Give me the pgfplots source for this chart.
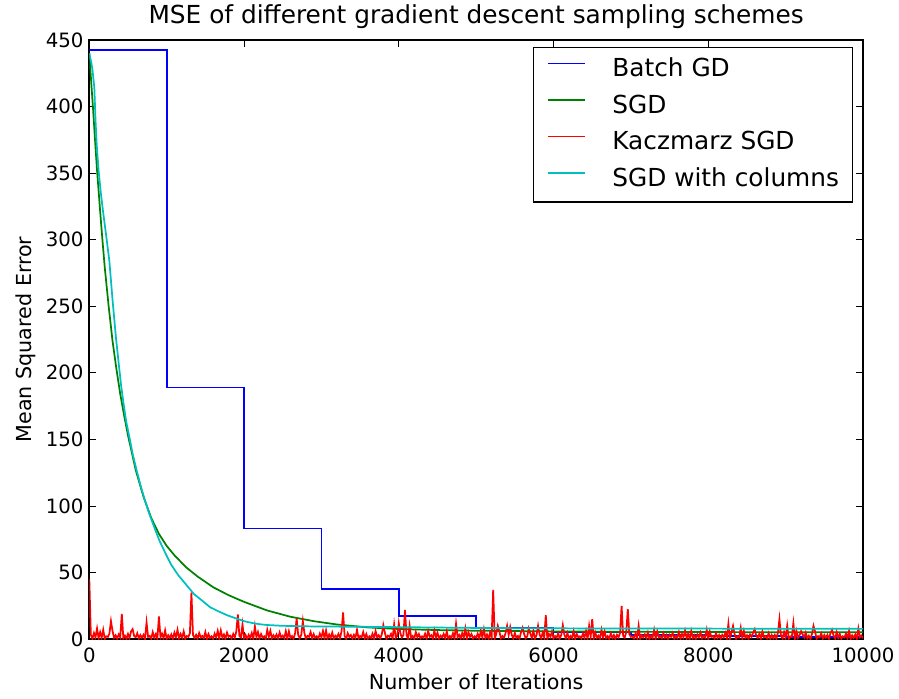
\documentclass[border=0pt]{standalone}
\usepackage{pgfplots}
\pgfplotsset{compat=1.18}
\usepackage{fontspec}
\setmainfont{DejaVu Sans}
\definecolor{mplblue}{rgb}{0,0,1}
\definecolor{mplgreen}{rgb}{0,0.5,0}
\definecolor{mplred}{rgb}{1,0,0}
\definecolor{mplcyan}{rgb}{0,0.75,0.75}
\begin{document}
\begin{tikzpicture}
\begin{axis}[
  name=ax,
  scale only axis,
  width=580.3pt, height=449.5pt,
  xmin=0, xmax=10000, ymin=0, ymax=450,
  scaled x ticks=false, scaled y ticks=false,
  xtick={0,2000,4000,6000,8000,10000},
  xticklabels={0,2000,4000,6000,8000,10000},
  ytick={0,50,100,150,200,250,300,350,400,450},
  yticklabels={0,50,100,150,200,250,300,350,400,450},
  /pgf/number format/assume math mode=true,
  tick align=inside,
  major tick length=5.2pt,
  every tick/.style={black, line width=0.65pt},
  axis line style={line width=1.3pt},
  ticklabel style={font=\fontsize{14.8}{17}\selectfont},
  xticklabel style={yshift=-3pt},
  yticklabel style={xshift=-0.8pt},
  title={MSE of different gradient descent sampling schemes},
  title style={at={(axis description cs:0.5,1)}, anchor=base, yshift=6.4pt, font=\fontsize{18.6}{22}\selectfont},
  xlabel={Number of Iterations},
  xlabel style={at={(axis description cs:0.5,0)}, anchor=base, yshift=-38pt, font=\fontsize{15.5}{18}\selectfont},
  ylabel={Mean Squared Error},
  ylabel style={at={([xshift=-43.7pt]axis description cs:0,0.5)}, anchor=base, font=\fontsize{15.5}{18}\selectfont},
  legend style={
    at={(axis description cs:1,1)}, xshift=-7.5pt, yshift=-5.5pt, anchor=north east,
    font=\fontsize{18.6}{22}\selectfont,
    draw=black, line width=1pt,
    inner xsep=10pt, inner ysep=3pt,
    nodes={inner xsep=0pt, inner ysep=4.7pt, text height=14pt, text depth=4pt},
    row sep=0pt,
    /tikz/every odd column/.append style={column sep=20.25pt},
  },
  legend cell align=left,
  legend image code/.code={\draw[#1, line width=1.3pt] (0pt,5pt) -- (27.75pt,5pt);},
]
\addplot[mplblue, line width=1.3pt, const plot, no markers] coordinates {
(0,442.5)(1000,189)(2000,83)(3000,37.5)(4000,17.5)(5000,8.8)(6000,5)(7000,3)(8000,2.2)(9000,1.8)(10000,1.6)
};
\addlegendentry{Batch GD}
\addplot[mplgreen, line width=1.3pt, sharp plot, no markers] coordinates {
(0,440)(25,418)(50,397)(75,374)(100,352)(125,333)(150,314)(175,296)(200,279)(250,250)
(300,224)(350,203)(400,184)(450,168)(500,153)(600,127)(700,107)(800,91)(900,79)(1000,70)
(1100,63)(1250,54)(1400,47)(1600,39)(1800,33)(2000,28)(2300,21.5)(2600,16.8)(2900,13.5)(3200,11)
(3600,8.8)(4000,7.6)(4500,6.8)(5000,6.3)(6000,5.8)(7000,5.5)(8000,5.3)(9000,5.2)(10000,5.1)
};
\addlegendentry{SGD}
\addplot[mplred, line width=1.3pt, sharp plot, no markers] coordinates {
(0,45)(20,3.2)(40,0.3)(60,4.6)(80,1.4)(100,8)(120,0.6)(140,5.3)(160,1.1)(180,7)
(200,0.2)(220,2.1)(240,1.7)(260,4.1)(280,13.5)(300,6.2)(320,1.0)(340,2.9)(360,0.4)(380,3.5)
(400,1.3)(420,19)(440,0.7)(460,2.6)(480,0.2)(500,3.9)(520,0.9)(540,5.8)(560,7.5)(580,2.3)
(600,1.4)(620,4.4)(640,0.6)(660,3.1)(680,1.1)(700,3.2)(720,0.2)(740,12.5)(760,1.7)(780,2.4)
(800,0.5)(820,5.3)(840,1.0)(860,3.8)(880,0.4)(900,17)(920,1.3)(940,4.1)(960,0.7)(980,6.5)
(1000,0.2)(1020,2.9)(1040,0.9)(1060,3.5)(1080,0.3)(1100,4.9)(1120,1.4)(1140,7)(1160,0.6)(1180,3.9)
(1200,1.1)(1220,5.8)(1240,0.2)(1260,2.3)(1280,1.7)(1300,4.4)(1320,35)(1340,3.1)(1360,1.0)(1380,3.2)
(1400,0.4)(1420,4.6)(1440,1.3)(1460,2.4)(1480,0.7)(1500,5.3)(1520,0.2)(1540,3.8)(1560,0.9)(1580,2.1)
(1600,0.3)(1620,4.1)(1640,1.4)(1660,6.2)(1680,0.6)(1700,6.5)(1720,1.1)(1740,3.5)(1760,0.2)(1780,4.9)
(1800,1.7)(1820,2.6)(1840,0.5)(1860,3.9)(1880,1.0)(1900,5.8)(1920,18.5)(1940,2.3)(1960,1.3)(1980,11)
(2000,0.7)(2020,3.1)(2040,0.2)(2060,3.2)(2080,0.9)(2100,4.6)(2120,0.3)(2140,9.5)(2160,1.4)(2180,5.3)
(2200,0.6)(2220,3.8)(2240,1.1)(2260,2.1)(2280,0.2)(2300,7)(2320,1.7)(2340,6.2)(2360,0.5)(2380,2.9)
(2400,1.0)(2420,3.5)(2440,0.4)(2460,4.9)(2480,1.3)(2500,2.6)(2520,0.7)(2540,6)(2560,0.2)(2580,5.8)
(2600,0.9)(2620,2.3)(2640,0.3)(2660,4.4)(2680,15.5)(2700,3.1)(2720,0.6)(2740,3.2)(2760,13.5)(2780,4.6)
(2800,0.2)(2820,2.4)(2840,1.7)(2860,5.3)(2880,0.5)(2900,3.8)(2920,1.0)(2940,2.1)(2960,0.4)(2980,4.1)
(3000,1.3)(3020,6.2)(3040,0.7)(3060,6.5)(3080,0.2)(3100,3.5)(3120,0.9)(3140,4.9)(3160,0.3)(3180,2.6)
(3200,1.4)(3220,3.9)(3240,0.6)(3260,5.8)(3280,20)(3300,2.3)(3320,0.2)(3340,4.4)(3360,1.7)(3380,3.1)
(3400,0.5)(3420,3.2)(3440,1.0)(3460,7)(3480,0.4)(3500,2.4)(3520,1.3)(3540,5.3)(3560,0.7)(3580,3.8)
(3600,0.2)(3620,2.1)(3640,0.9)(3660,4.1)(3680,0.3)(3700,6.2)(3720,1.4)(3740,2.9)(3760,0.6)(3780,3.5)
(3800,10.5)(3820,4.9)(3840,0.2)(3860,2.6)(3880,1.7)(3900,3.9)(3920,0.5)(3940,11)(3960,1.0)(3980,2.3)
(4000,12)(4020,4.4)(4040,1.3)(4060,3.1)(4080,22)(4100,3.2)(4120,0.2)(4140,10)(4160,0.9)(4180,2.4)
(4200,0.3)(4220,5.3)(4240,1.4)(4260,3.8)(4280,0.6)(4300,2.1)(4320,1.1)(4340,4.1)(4360,0.2)(4380,6.2)
(4400,1.7)(4420,2.9)(4440,0.5)(4460,6.5)(4480,1.0)(4500,4.9)(4520,0.4)(4540,2.6)(4560,1.3)(4580,3.9)
(4600,0.7)(4620,5.8)(4640,0.2)(4660,2.3)(4680,0.9)(4700,4.4)(4720,0.3)(4740,11.5)(4760,1.4)(4780,3.2)
(4800,0.6)(4820,4.6)(4840,1.1)(4860,8)(4880,0.2)(4900,5.3)(4920,1.7)(4940,3.8)(4960,0.5)(4980,2.1)
(5000,1.0)(5020,4.1)(5040,0.4)(5060,6.2)(5080,1.3)(5100,7.5)(5120,0.7)(5140,3.5)(5160,0.2)(5180,4.9)
(5200,0.9)(5220,37)(5240,0.3)(5260,3.9)(5280,10)(5300,5.8)(5320,0.6)(5340,2.3)(5360,1.1)(5380,4.4)
(5400,10)(5420,3.1)(5440,9)(5460,3.2)(5480,0.5)(5500,4.6)(5520,1.0)(5540,2.4)(5560,0.4)(5580,5.3)
(5600,8.5)(5620,3.8)(5640,0.7)(5660,2.1)(5680,8)(5700,4.1)(5720,0.9)(5740,6.2)(5760,0.3)(5780,2.9)
(5800,10)(5820,3.5)(5840,0.6)(5860,4.9)(5880,1.1)(5900,18)(5920,0.2)(5940,3.9)(5960,1.7)(5980,5.8)
(6000,0.5)(6020,2.3)(6040,1.0)(6060,4.4)(6080,0.4)(6100,3.1)(6120,10.5)(6140,3.2)(6160,0.7)(6180,4.6)
(6200,0.2)(6220,2.4)(6240,0.9)(6260,6)(6280,0.3)(6300,3.8)(6320,1.4)(6340,2.1)(6360,0.6)(6380,4.1)
(6400,1.1)(6420,6.2)(6440,0.2)(6460,10)(6480,1.7)(6500,15)(6520,0.5)(6540,4.9)(6560,1.0)(6580,2.6)
(6600,0.4)(6620,7)(6640,1.3)(6660,5.8)(6680,0.7)(6700,2.3)(6720,0.2)(6740,4.4)(6760,0.9)(6780,3.1)
(6800,0.3)(6820,3.2)(6840,1.4)(6860,4.6)(6880,25)(6900,2.4)(6920,1.1)(6940,5.3)(6960,22.5)(6980,3.8)
(7000,1.7)(7020,2.1)(7040,0.5)(7060,4.1)(7080,1.0)(7100,10)(7120,0.4)(7140,2.9)(7160,1.3)(7180,3.5)
(7200,0.7)(7220,4.9)(7240,0.2)(7260,2.6)(7280,0.9)(7300,7)(7320,0.3)(7340,5.8)(7360,1.4)(7380,2.3)
(7400,0.6)(7420,4.4)(7440,1.1)(7460,3.1)(7480,0.2)(7500,3.2)(7520,1.7)(7540,4.6)(7560,0.5)(7580,2.4)
(7600,1.0)(7620,5.3)(7640,0.4)(7660,3.8)(7680,1.3)(7700,6.5)(7720,0.7)(7740,4.1)(7760,0.2)(7780,6.2)
(7800,0.9)(7820,2.9)(7840,0.3)(7860,3.5)(7880,1.4)(7900,4.9)(7920,0.6)(7940,2.6)(7960,1.1)(7980,7)
(8000,0.2)(8020,5.8)(8040,1.7)(8060,2.3)(8080,0.5)(8100,4.4)(8120,1.0)(8140,3.1)(8160,0.4)(8180,3.2)
(8200,1.3)(8220,4.6)(8240,0.7)(8260,11.5)(8280,0.2)(8300,5.3)(8320,10)(8340,3.8)(8360,0.3)(8380,2.1)
(8400,1.4)(8420,8.5)(8440,0.6)(8460,6.2)(8480,1.1)(8500,2.9)(8520,0.2)(8540,3.5)(8560,1.7)(8580,4.9)
(8600,7.5)(8620,2.6)(8640,1.0)(8660,3.9)(8680,0.4)(8700,5.8)(8720,1.3)(8740,2.3)(8760,0.7)(8780,4.4)
(8800,0.2)(8820,3.1)(8840,0.9)(8860,3.2)(8880,0.3)(8900,4.6)(8920,15)(8940,2.4)(8960,0.6)(8980,5.3)
(9000,1.1)(9020,10)(9040,0.2)(9060,2.1)(9080,1.7)(9100,12)(9120,0.5)(9140,6.2)(9160,1.0)(9180,2.9)
(9200,6)(9220,3.5)(9240,1.3)(9260,4.9)(9280,0.7)(9300,2.6)(9320,0.2)(9340,3.9)(9360,10)(9380,5.8)
(9400,0.3)(9420,2.3)(9440,1.4)(9460,4.4)(9480,0.6)(9500,3.1)(9520,1.1)(9540,3.2)(9560,0.2)(9580,4.6)
(9600,7)(9620,2.4)(9640,0.5)(9660,5.3)(9680,1.0)(9700,3.8)(9720,0.4)(9740,2.1)(9760,1.3)(9780,4.1)
(9800,0.7)(9820,6.2)(9840,0.2)(9860,2.9)(9880,0.9)(9900,3.5)(9920,0.3)(9940,8)(9960,1.4)(9980,2.6)
(10000,0.6)
};
\addlegendentry{Kaczmarz SGD}
\addplot[mplcyan, line width=1.3pt, sharp plot, no markers] coordinates {
(0,440)(10,437)(22,434)(40,428)(65,414)(80,390)(96,371)(120,352)(151,334)(180,320)
(216,304)(259,284)(300,255)(345,226)(380,207)(410,191)(440,178)(475,164)(520,151)(561,139)
(610,127)(669,114)(720,104)(776,94)(840,84)(906,74)(980,65)(1057,56)(1150,48)(1251,41)
(1350,34)(1467,28.5)(1560,24)(1682,20.5)(1780,18)(1898,15.5)(2000,13.5)(2100,12.2)(2200,11.2)(2300,10.6)
(2500,10)(2800,9.6)(3200,9.4)(4000,9)(5000,8.4)(6000,8.1)(7000,8)(8000,7.9)(9000,7.8)(10000,7.7)
};
\addlegendentry{SGD with columns}
\end{axis}
\path ([shift={(-66.98pt,-44.8pt)}]ax.south west) rectangle ([shift={(27pt,26.25pt)}]ax.north east);
\end{tikzpicture}
\end{document}
